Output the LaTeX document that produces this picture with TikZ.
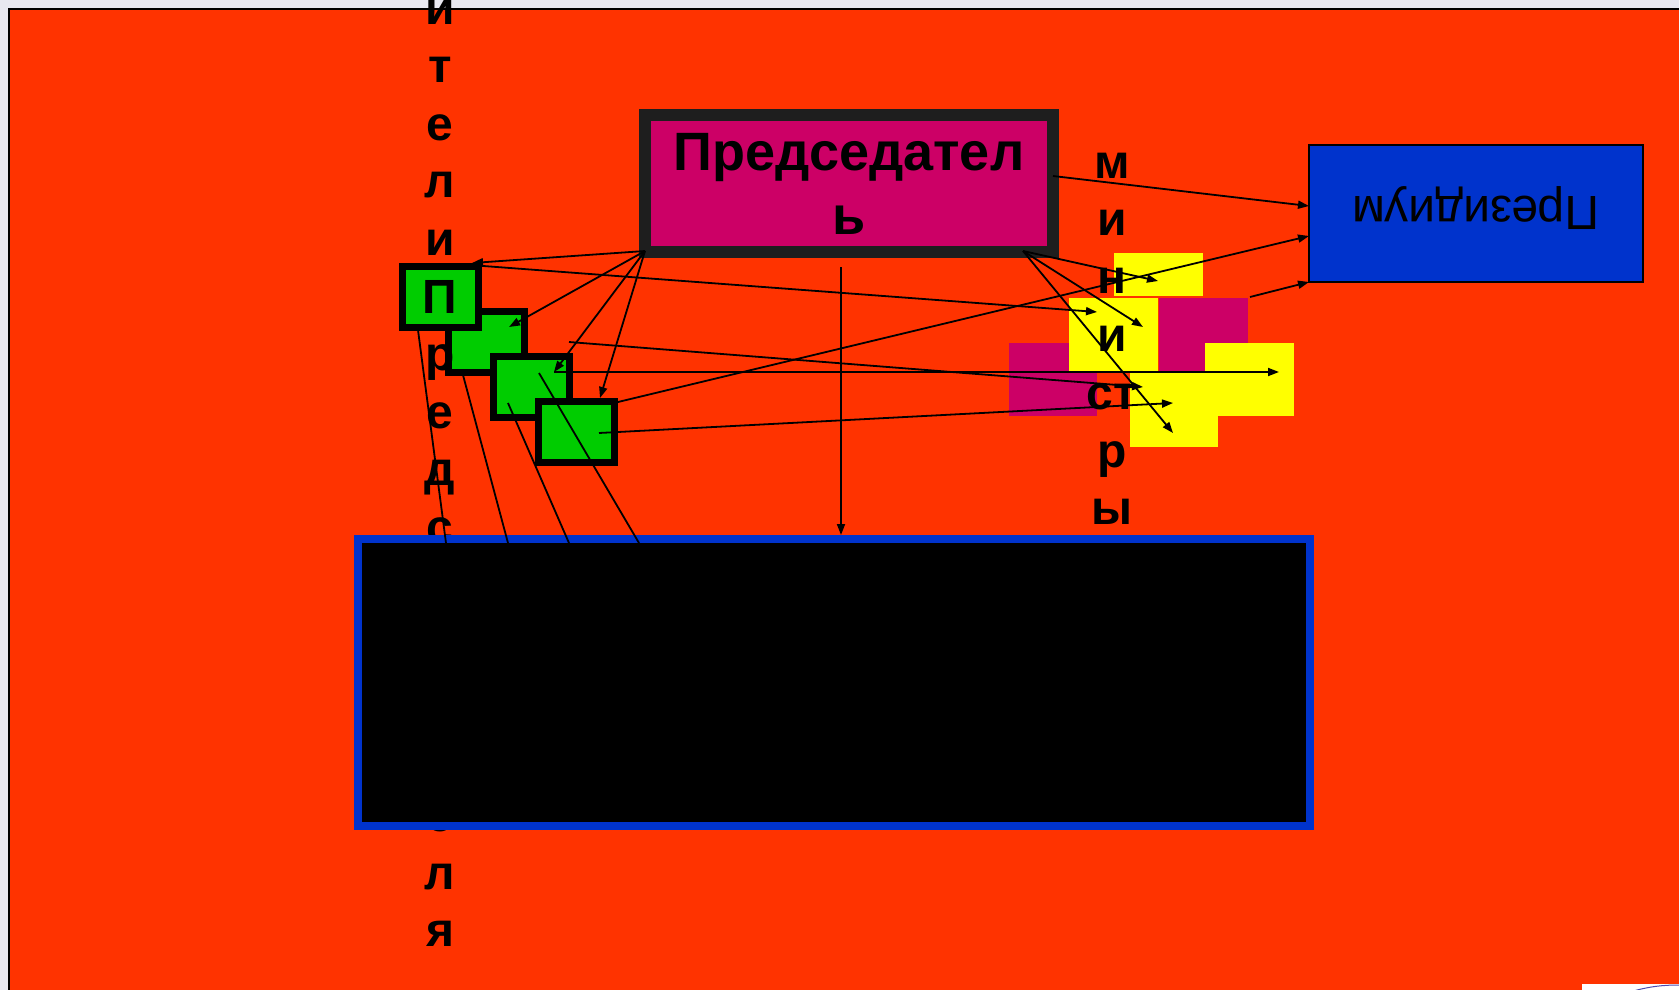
\documentclass[tikz,border=0pt]{standalone}
\usepackage{fontspec}
\setmainfont{Liberation Sans}
\usetikzlibrary{arrows.meta}
\definecolor{slidered}{HTML}{FF3300}
\definecolor{chairfill}{HTML}{CC0066}
\definecolor{chairline}{HTML}{1E1E1E}
\definecolor{presblue}{HTML}{0033CC}
\definecolor{dgreen}{HTML}{00CC00}
\definecolor{ylw}{HTML}{FFFF00}
\definecolor{outside}{HTML}{E8E8F0}
\tikzset{
  conn/.style={line width=1.8pt, -{Triangle[length=11pt,width=8pt]}},
  plainline/.style={line width=1.8pt},
  greensq/.style={draw=black, fill=dgreen, line width=7pt, minimum width=76pt, minimum height=61pt, inner sep=0pt},
  tile/.style={draw=none, inner sep=0pt, minimum width=89pt},
  vletter/.style={anchor=base, inner sep=0pt, font=\fontsize{48}{58}\selectfont\bfseries},
}
\begin{document}
\begin{tikzpicture}[x=1pt,y=-1pt]
\useasboundingbox (0,0) rectangle (1679,990);
\clip (0,0) rectangle (1679,990);
% background and slide frame
\fill[outside] (0,0) rectangle (1679,990);
\draw[fill=slidered, line width=1.2pt] (9,9) rectangle (1730,1040);
\fill[white] (1582,984) rectangle (1679,995);
\draw[line width=1pt, gray!60!blue] (1630,992) .. controls (1650,986) and (1665,985) .. (1679,985);

% chairman
\node[draw=chairline, fill=chairfill, line width=12pt, minimum width=408pt, minimum height=137pt,
      inner sep=0pt, align=center, font=\fontsize{54}{64}\selectfont\bfseries] (chair) at (849,183.5) {Председател\\ь};

% presidium
\node[draw=black, fill=presblue, line width=1.5pt, minimum width=334pt, minimum height=137pt, inner sep=0pt] (pres) at (1476,213.5) {};
\node[anchor=base, rotate=180, inner sep=0pt, font=\fontsize{48}{58}\selectfont] (prestext) at (1476,196) {Президиум};

% ministers tiles
\node[tile, fill=chairfill, minimum width=88pt, minimum height=73pt] (me) at (1053,379.5) {};
\node[tile, fill=chairfill, minimum height=73pt] (mc) at (1203.5,334.5) {};
\node[tile, fill=ylw, minimum height=43pt] (ya) at (1158.5,274.5) {};
\node[tile, fill=ylw, minimum height=73pt] (yb) at (1113.5,334.5) {};
\node[tile, fill=ylw, minimum height=73pt] (yd) at (1249.5,379.5) {};
\node[tile, fill=ylw, minimum width=88pt, minimum height=75pt] (yf) at (1174,409.5) {};

% deputies squares
\node[greensq] (sq2) at (486,341.5) {};
\node[greensq] (sq1) at (440.5,296.5) {};
\node[greensq] (sq3) at (531.5,387) {};
\node[greensq] (sq4) at (576.5,432) {};

% vertical texts
\foreach \ch [count=\i] in {и,т,е,л,и,П,р,е,д,с,е,д,а,т,е,л,я}
  \node[vletter] (dep\i) at (440,{25+(\i-1)*57.6}) {\ch};
\foreach \ch [count=\i] in {м,и,н,и,ст,р,ы}
  \node[vletter] (min\i) at (1112,{178+(\i-1)*57.8}) {\ch};

% government (black box)
\node[draw=presblue, fill=black, line width=8pt, minimum width=952.5pt, minimum height=286.5pt, inner sep=0pt] (gov) at (833.75,682.25) {};

% connector endpoints
\coordinate (cSW) at (645,251);
\coordinate (cSE) at (1023,251);
\coordinate (cE) at (1053,176);
\coordinate (cS) at (841,267);
\coordinate (t1) at (472,263);
\coordinate (t2) at (509,327);
\coordinate (t3) at (554,372);
\coordinate (t4) at (600,398);
\coordinate (t5) at (1158,281);
\coordinate (t6) at (1143,327);
\coordinate (t7) at (1173,433);
\coordinate (p1) at (1309,206);
\coordinate (p2) at (1309,236);
\coordinate (p3) at (1309,282);
\coordinate (s9) at (618,402);
\coordinate (s10) at (1250,297);
\coordinate (s11) at (470,265);
\coordinate (t11) at (1097,312);
\coordinate (s12) at (569,342);
\coordinate (t12) at (1143,387);
\coordinate (s13) at (554,372);
\coordinate (t13) at (1279,372);
\coordinate (s14) at (599,433);
\coordinate (t14) at (1173,403);
\coordinate (gtop) at (841,535);
\coordinate (a15) at (418,330); \coordinate (b15) at (446,543);
\coordinate (a16) at (463,375); \coordinate (b16) at (508,543);
\coordinate (a17) at (508,403); \coordinate (b17) at (569,543);
\coordinate (a18) at (539,373); \coordinate (b18) at (639,543);

% connectors
\draw[conn] (cSW) -- (t1);
\draw[conn] (cSW) -- (t2);
\draw[conn] (cSW) -- (t3);
\draw[conn] (cSW) -- (t4);
\draw[conn] (cSE) -- (t5);
\draw[conn] (cSE) -- (t6);
\draw[conn] (cSE) -- (t7);
\draw[conn] (cE) -- (p1);
\draw[conn] (s9) -- (p2);
\draw[conn] (s10) -- (p3);
\draw[conn] (s11) -- (t11);
\draw[conn] (s12) -- (t12);
\draw[conn] (s13) -- (t13);
\draw[conn] (s14) -- (t14);
\draw[conn] (cS) -- (gtop);
\draw[plainline] (a15) -- (b15);
\draw[plainline] (a16) -- (b16);
\draw[plainline] (a17) -- (b17);
\draw[plainline] (a18) -- (b18);
\end{tikzpicture}
\end{document}
